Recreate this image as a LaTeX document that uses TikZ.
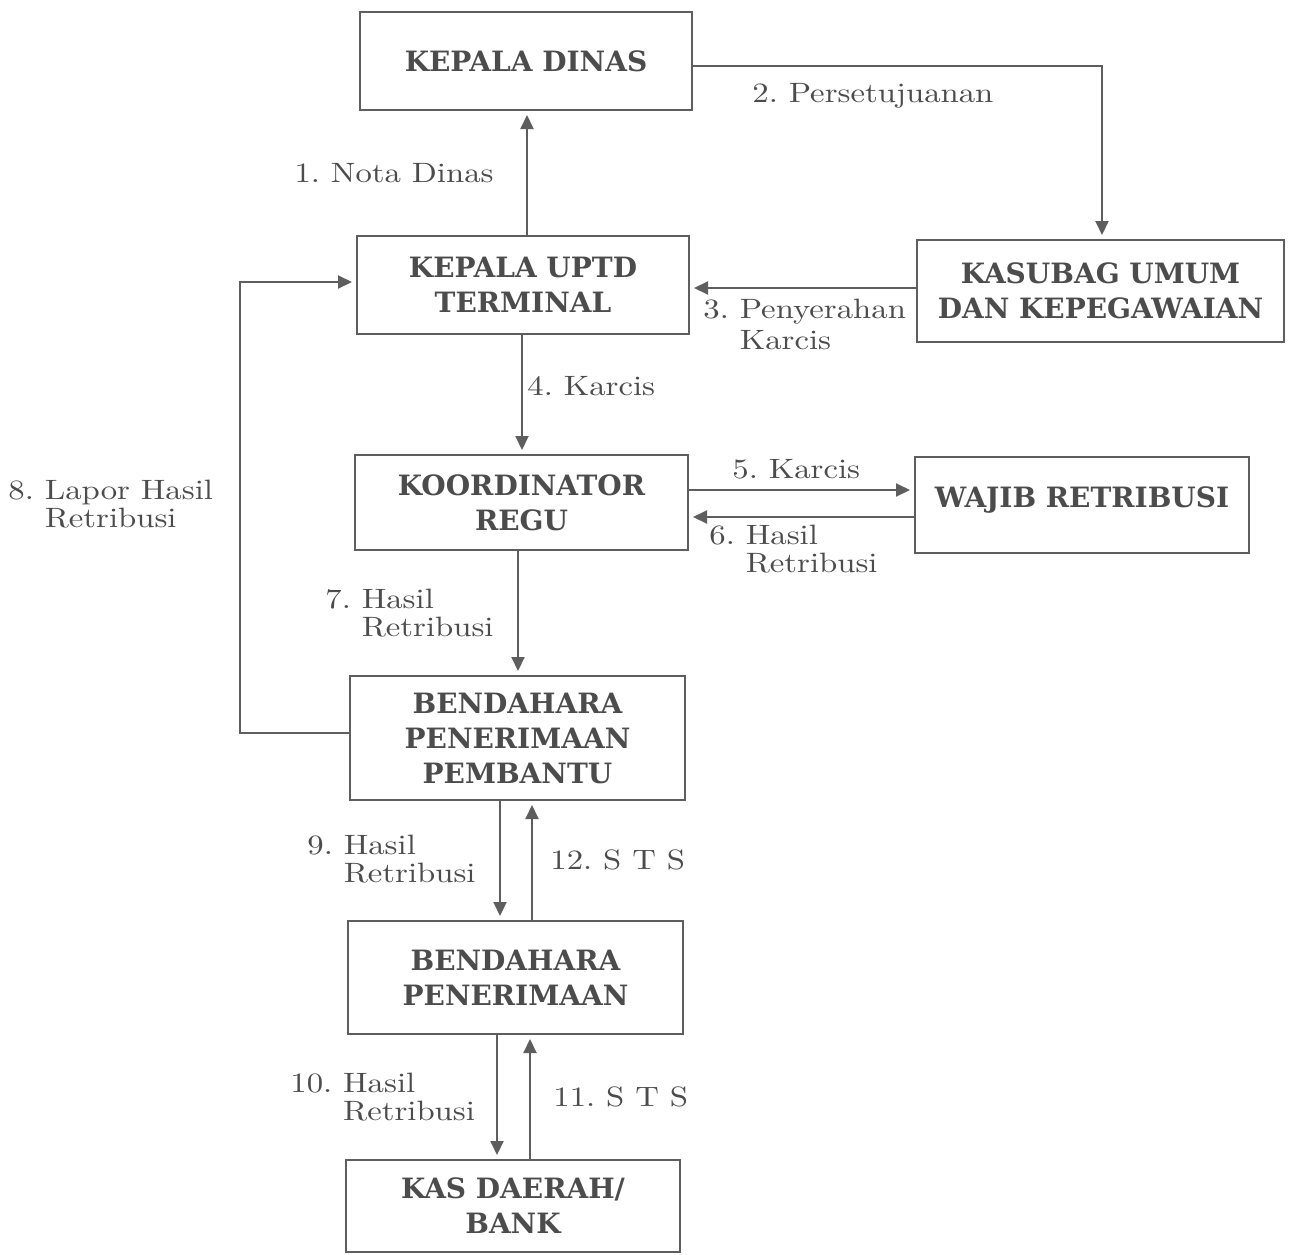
\documentclass[tikz,border=0pt]{standalone}
\usepackage{fontspec}
\usetikzlibrary{arrows.meta,calc}
\newfontfamily\boxfont{DejaVu Serif}
\newfontfamily\labfont[Extension=.otf,FakeStretch=1.17]{lmroman10-regular}
\definecolor{linec}{HTML}{5E5E5E}
\definecolor{txtc}{HTML}{4C4C4C}
\begin{document}
\begin{tikzpicture}[x=0.5pt,y=-0.5pt,
  box/.style={draw=linec, line width=1pt, align=center, text=txtc, inner sep=0pt,
    font=\boxfont\bfseries\fontsize{14}{17.5}\selectfont},
  lab/.style={font=\labfont\fontsize{14}{14}\selectfont, text=txtc, inner sep=0pt, align=left},
  arr/.style={draw=linec, line width=1pt, -{Triangle[length=7pt,width=6.5pt]}, shorten >=2pt},
]
\fill[white] (0,0) rectangle (1291,1254);
\useasboundingbox (0,0) rectangle (1291,1254);

% boxes
\node[box, minimum width=166pt, minimum height=49pt] (kd) at (526,61) {KEPALA DINAS};
\node[box, minimum width=166pt, minimum height=49pt] (uptd) at (523,285) {KEPALA UPTD\\TERMINAL};
\node[box, minimum width=183.5pt, minimum height=51pt] (kasub) at (1100.5,291) {KASUBAG UMUM\\DAN KEPEGAWAIAN};
\node[box, minimum width=166.5pt, minimum height=47.5pt] (koord) at (521.5,502.5) {KOORDINATOR\\REGU};
\node[box, minimum width=167pt, minimum height=48pt] (wajib) at (1082,505) {\raisebox{8pt}{WAJIB RETRIBUSI}};
\node[box, minimum width=167.5pt, minimum height=62pt] (bpp) at (517.5,738) {BENDAHARA\\PENERIMAAN\\PEMBANTU};
\node[box, minimum width=167.5pt, minimum height=56.5pt] (bp) at (515.5,977.5) {BENDAHARA\\PENERIMAAN};
\node[box, minimum width=167pt, minimum height=46pt] (kasd) at (513,1206) {KAS DAERAH/\\BANK};

% connectors
\coordinate (a1) at ([xshift=2pt]uptd.north);
\draw[arr] (a1) -- (a1 |- kd.south);
\coordinate (a2) at ([yshift=-2.5pt]kd.east);
\draw[arr] (a2) -| ([xshift=0.75pt]kasub.north);
\coordinate (a3) at ([yshift=1.5pt]kasub.west);
\draw[arr] (a3) -- (a3 -| uptd.east);
\coordinate (a4) at ([xshift=-0.5pt]uptd.south);
\draw[arr] (a4) -- (a4 |- koord.north);
\coordinate (a5) at ([yshift=6.25pt]koord.east);
\draw[arr] (a5) -- (a5 -| wajib.west);
\coordinate (a6) at ([yshift=-6pt]wajib.west);
\draw[arr] (a6) -- (a6 -| koord.east);
\coordinate (a7) at ([xshift=-1.75pt]koord.south);
\draw[arr] (a7) -- (a7 |- bpp.north);
\coordinate (a8s) at ([yshift=2.5pt]bpp.west);
\coordinate (a8e) at ([yshift=1.5pt]uptd.west);
\coordinate (a8x) at (240,0);
\draw[arr] (a8s) -- (a8x |- a8s) -- (a8x |- a8e) -- (a8e);
\coordinate (a9) at ([xshift=-8.75pt]bpp.south);
\draw[arr] (a9) -- (a9 |- bp.north);
\coordinate (a12) at ([xshift=8.25pt]bp.north);
\draw[arr] (a12) -- (a12 |- bpp.south);
\coordinate (a10) at ([xshift=-9.25pt]bp.south);
\draw[arr] (a10) -- (a10 |- kasd.north);
\coordinate (a11) at ([xshift=8.5pt]kasd.north);
\draw[arr] (a11) -- (a11 |- bp.south);

% labels
\node[lab, anchor=base east] (l1) at (494,182) {1.~Nota Dinas};
\node[lab, anchor=base west] (l2) at (752,102) {2.~Persetujuanan};
\node[lab, anchor=north west, font=\labfont\fontsize{14}{15.5}\selectfont] (l3) at (703,299) {3.~Penyerahan\\\hphantom{3.~}Karcis};
\node[lab, anchor=base west] (l4) at (527,395) {4.~Karcis};
\node[lab, anchor=base west] (l5) at (732,478) {5.~Karcis};
\node[lab, anchor=north west] (l6) at (709,525) {6.~Hasil\\\hphantom{6.~}Retribusi};
\node[lab, anchor=north west] (l7) at (325,589) {7.~Hasil\\\hphantom{7.~}Retribusi};
\node[lab, anchor=north west] (l8) at (8,480) {8.~Lapor Hasil\\\hphantom{8.~}Retribusi};
\node[lab, anchor=north west] (l9) at (307,835) {9.~Hasil\\\hphantom{9.~}Retribusi};
\node[lab, anchor=north west] (l10) at (290,1073) {10.~Hasil\\\hphantom{10.~}Retribusi};
\node[lab, anchor=base west] (l12) at (550,869) {12.~S T S};
\node[lab, anchor=base west] (l11) at (553,1106) {11.~S T S};
\end{tikzpicture}
\end{document}
